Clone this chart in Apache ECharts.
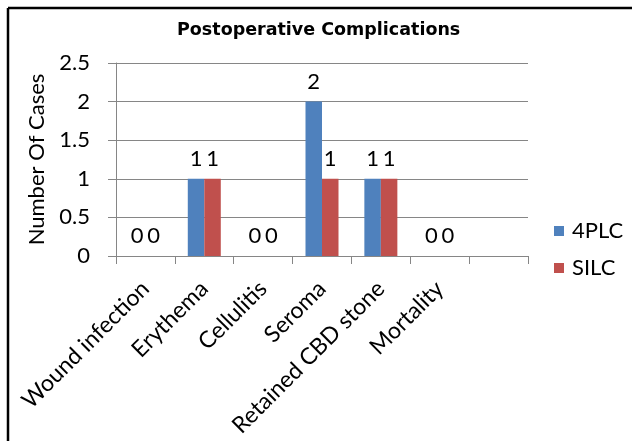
<!DOCTYPE html>
<html>
<head>
<meta charset="utf-8">
<script src="https://cdn.jsdelivr.net/npm/echarts@6/dist/echarts.min.js"></script>
<style>
  html, body { margin: 0; padding: 0; background: #fff; }
  #chart { width: 632px; height: 441px; }
</style>
</head>
<body>
<div id="chart"></div>
<script>
// categories (last slot is empty in the original chart)
const categories = ['Wound infection', 'Erythema', 'Cellulitis', 'Seroma', 'Retained CBD stone', 'Mortality', ''];
const plc4 = [0, 1, 0, 2, 1, 0, null];
const silc = [0, 1, 0, 1, 1, 0, null];
const yTicks = [0, 0.5, 1, 1.5, 2, 2.5];

const font = 'Lato';
const fs = 22;
const chart = echarts.init(document.getElementById('chart'));

const barLabel = {
  show: true,
  position: 'top',
  distance: 9,
  color: '#000',
  fontFamily: font,
  fontSize: fs
};

const option = {
  animation: false,
  title: {
    text: 'Postoperative Complications',
    left: 172,
    top: 16,
    textStyle: { fontFamily: 'DejaVu Sans', fontWeight: 'bold', fontSize: 17.5, color: '#000' }
  },
  graphic: [
    { type: 'line', shape: { x1: 8, y1: 8, x2: 632, y2: 8 }, style: { stroke: '#000', lineWidth: 2.5 } },
    { type: 'line', shape: { x1: 8, y1: 8, x2: 8, y2: 441 }, style: { stroke: '#000', lineWidth: 2.5 } }
  ],
  legend: {
    orient: 'vertical',
    left: 549,
    top: 215,
    itemWidth: 10,
    itemHeight: 10,
    itemGap: 15,
    icon: 'rect',
    textStyle: { fontFamily: font, fontSize: fs, color: '#000', padding: [0, 0, 0, 3] },
    data: ['4PLC', 'SILC']
  },
  grid: { left: 116, right: 104, top: 63, bottom: 185 },
  xAxis: {
    type: 'category',
    data: categories,
    axisLine: { lineStyle: { color: '#868686' } },
    axisTick: { show: true, length: 8, interval: 0, lineStyle: { color: '#868686' } },
    axisLabel: { rotate: 45, interval: 0, margin: 29, color: '#000', fontFamily: font, fontSize: 23 }
  },
  yAxis: {
    type: 'value',
    min: yTicks[0],
    max: yTicks[yTicks.length - 1],
    interval: 0.5,
    name: 'Number Of Cases',
    nameLocation: 'middle',
    nameGap: 68,
    nameTextStyle: { fontFamily: font, fontSize: fs, color: '#000' },
    axisLine: { show: true, lineStyle: { color: '#868686' } },
    axisTick: { show: true, length: 8, lineStyle: { color: '#868686' } },
    splitLine: { lineStyle: { color: '#868686' } },
    axisLabel: { margin: 26, color: '#000', fontFamily: font, fontSize: fs }
  },
  series: [
    {
      name: '4PLC',
      type: 'bar',
      data: plc4,
      barWidth: 16.5,
      barGap: '0%',
      itemStyle: { color: '#4f81bd' },
      label: barLabel
    },
    {
      name: 'SILC',
      type: 'bar',
      data: silc,
      barWidth: 16.5,
      itemStyle: { color: '#c0504d' },
      label: barLabel
    }
  ]
};

chart.setOption(option);
</script>
</body>
</html>
